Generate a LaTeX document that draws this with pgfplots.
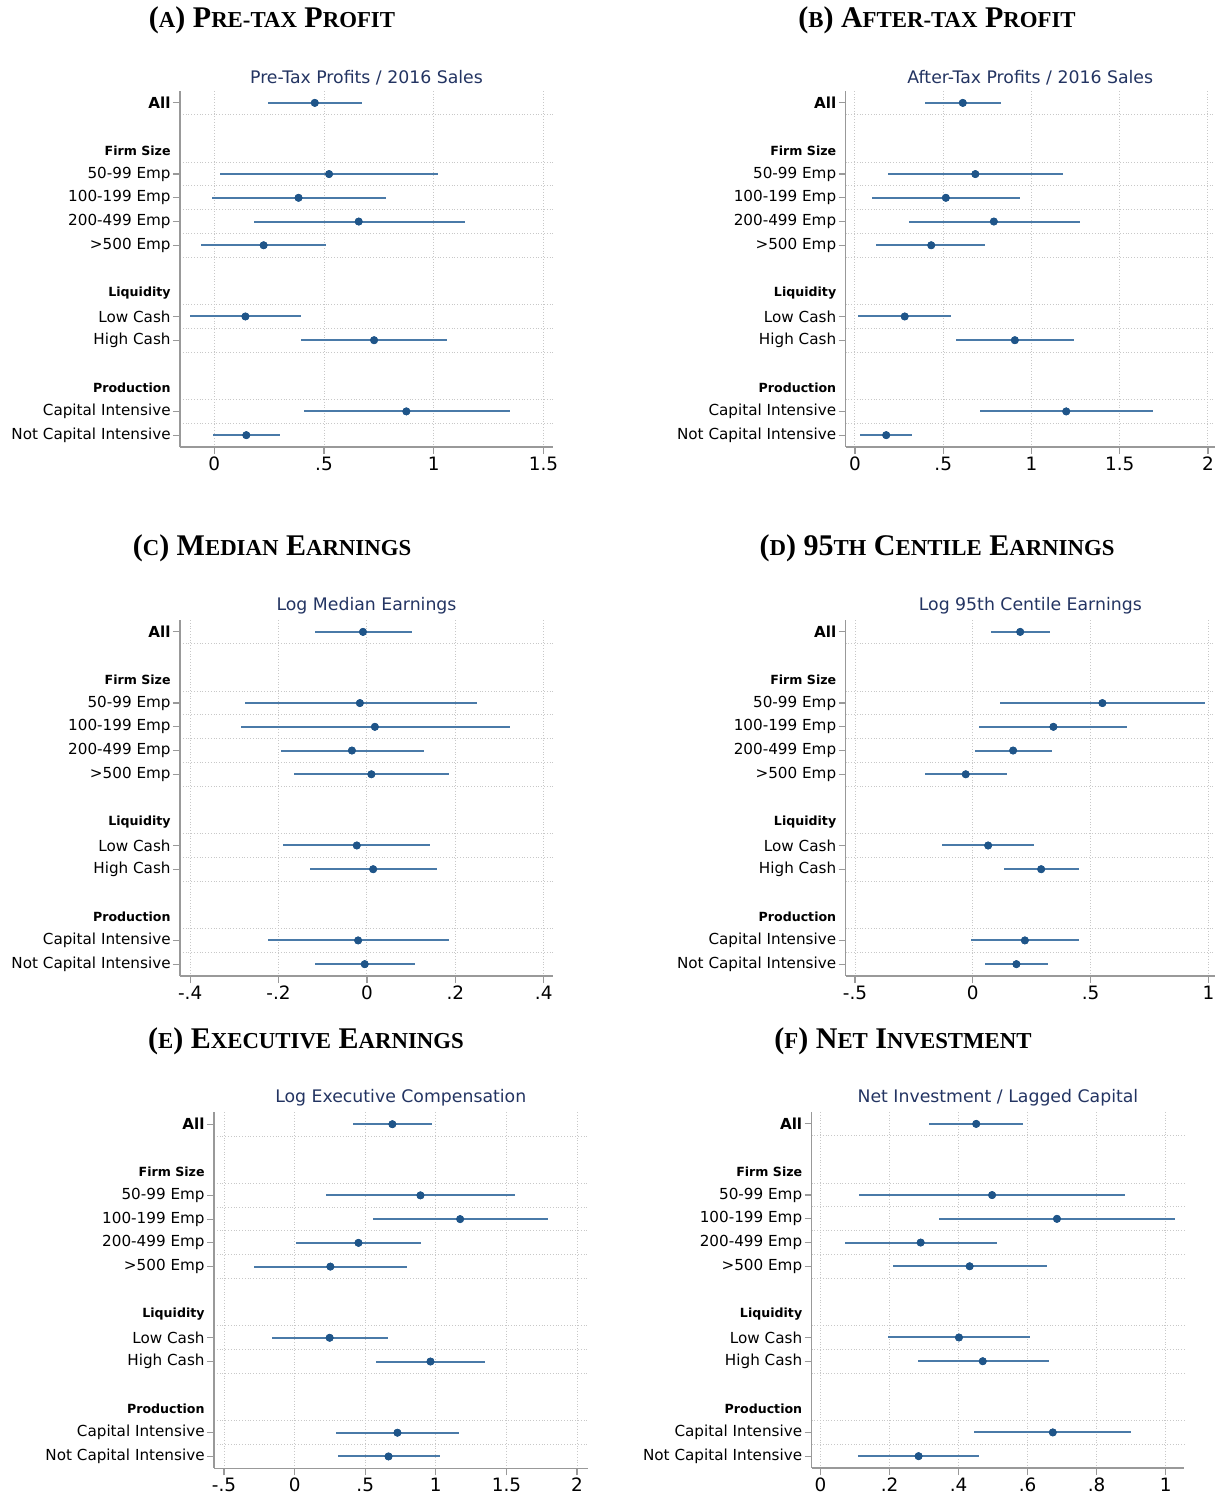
\documentclass[border=0pt]{standalone}
\usepackage{fontspec}
\setmainfont{DejaVu Sans}
\newfontfamily\titlefont{Liberation Serif}
\usepackage{pgfplots}
\usepackage{pgfplotstable}
\pgfplotsset{compat=1.18}
\definecolor{mk}{HTML}{1F5589}
\definecolor{ci}{HTML}{4A7AA8}
\definecolor{axgray}{HTML}{999999}
\definecolor{grd}{HTML}{C8C8C8}
\definecolor{ttl}{RGB}{35,52,98}
\newcommand\fsc[1]{{\fontsize{11.4}{13}\selectfont #1}}
\newcommand\ptitle[1]{{\titlefont\bfseries\fontsize{15}{18}\selectfont #1}}

\pgfplotstableread{
y est lo hi
0 0.458 0.244 0.672
3 0.523 0.026 1.019
4 0.384 -0.011 0.781
5 0.658 0.179 1.140
6 0.225 -0.060 0.509
9 0.142 -0.109 0.395
10 0.728 0.395 1.061
13 0.875 0.407 1.347
14 0.146 -0.004 0.298
}\tabA
\pgfplotstableread{
y est lo hi
0 0.611 0.394 0.830
3 0.682 0.186 1.181
4 0.515 0.098 0.935
5 0.787 0.304 1.273
6 0.432 0.121 0.738
9 0.282 0.020 0.544
10 0.906 0.575 1.242
13 1.197 0.707 1.687
14 0.177 0.029 0.322
}\tabB
\pgfplotstableread{
y est lo hi
0 -0.009 -0.117 0.101
3 -0.016 -0.277 0.248
4 0.018 -0.285 0.323
5 -0.034 -0.195 0.128
6 0.010 -0.166 0.186
9 -0.023 -0.189 0.143
10 0.014 -0.128 0.158
13 -0.020 -0.225 0.186
14 -0.005 -0.117 0.109
}\tabC
\pgfplotstableread{
y est lo hi
0 0.201 0.079 0.326
3 0.550 0.117 0.987
4 0.342 0.027 0.656
5 0.171 0.010 0.336
6 -0.030 -0.203 0.143
9 0.065 -0.129 0.260
10 0.290 0.134 0.450
13 0.221 -0.007 0.451
14 0.185 0.052 0.319
}\tabD
\pgfplotstableread{
y est lo hi
0 0.692 0.414 0.970
3 0.891 0.223 1.559
4 1.172 0.553 1.793
5 0.452 0.011 0.894
6 0.253 -0.289 0.798
9 0.248 -0.161 0.662
10 0.962 0.578 1.346
13 0.728 0.292 1.163
14 0.665 0.305 1.030
}\tabE
\pgfplotstableread{
y est lo hi
0 0.451 0.313 0.588
3 0.497 0.112 0.882
4 0.685 0.343 1.026
5 0.290 0.071 0.510
6 0.432 0.209 0.656
9 0.401 0.196 0.607
10 0.470 0.282 0.661
13 0.673 0.445 0.900
14 0.284 0.109 0.460
}\tabF

\pgfplotsset{
  coef/.style={
    scale only axis,
    height=178pt,
    y dir=reverse,
    ymin=-0.5, ymax=14.5,
    axis x line*=bottom, axis y line*=left,
    axis line style={draw=axgray, line width=0.6pt},
    tick style={draw=axgray, line width=0.6pt},
    tick align=outside,
    major tick length=3.5pt,
    minor tick length=0pt,
    ytick={0,3,4,5,6,9,10,13,14},
    yticklabels={\textbf{All},50-99 Emp,100-199 Emp,200-499 Emp,>500 Emp,Low Cash,High Cash,Capital Intensive,Not Capital Intensive},
    yticklabel style={font=\fontsize{7.6}{9}\selectfont, inner sep=1pt},
    xticklabel style={font=\fontsize{9.2}{10}\selectfont, inner sep=1.2pt},
    minor ytick={0.5,2.5,3.5,4.5,5.5,6.5,8.5,9.5,10.5,12.5,13.5},
    yminorgrids=true, xmajorgrids=true,
    minor grid style={densely dotted, draw=grd, line width=0.5pt},
    major grid style={densely dotted, draw=grd, line width=0.5pt},
    extra y ticks={2,8,12},
    extra y tick labels={Firm Size,Liquidity,Production},
    extra y tick style={major tick length=0pt, grid=none,
      yticklabel style={font=\bfseries\fontsize{6.3}{7.5}\selectfont, xshift=-3.5pt}},
    title style={font=\fontsize{8.65}{10}\selectfont, color=ttl, inner sep=2pt, yshift=-5pt},
    clip=false,
  },
  ciplot/.style={only marks, mark=*, mark size=1.75pt, color=mk,
    error bars/.cd, x dir=both, x explicit, error mark=none,
    error bar style={line width=1pt, color=ci}},
  dotplot/.style={only marks, mark=*, mark size=1.75pt, color=mk},
}
\newcommand\coefplots[1]{%
  \addplot[ciplot] table[x=est, y=y, x error plus expr=\thisrow{hi}-\thisrow{est}, x error minus expr=\thisrow{est}-\thisrow{lo}] {#1};
  \addplot[dotplot] table[x=est, y=y] {#1};
}

\begin{document}
\begin{tikzpicture}
\path[use as bounding box] (0pt,0pt) rectangle (608.5pt,-747pt);

\node at (136pt,-10pt) {\ptitle{(\fsc{A}) P\fsc{RE-TAX} P\fsc{ROFIT}}};
\node at (468.5pt,-10pt) {\ptitle{(\fsc{B}) A\fsc{FTER-TAX} P\fsc{ROFIT}}};
\node at (136pt,-274pt) {\ptitle{(\fsc{C}) M\fsc{EDIAN} E\fsc{ARNINGS}}};
\node at (468.5pt,-274pt) {\ptitle{(\fsc{D}) 95\fsc{TH} C\fsc{ENTILE} E\fsc{ARNINGS}}};
\node at (153pt,-520.5pt) {\ptitle{(\fsc{E}) E\fsc{XECUTIVE} E\fsc{ARNINGS}}};
\node at (451.5pt,-520.5pt) {\ptitle{(\fsc{F}) N\fsc{ET} I\fsc{NVESTMENT}}};

\begin{axis}[coef, at={(90pt,-223.5pt)}, anchor=south west, width=186.5pt,
  xmin=-0.156, xmax=1.543, xtick={0,0.5,1,1.5}, xticklabels={0,.5,1,1.5},
  title={Pre-Tax Profits / 2016 Sales}]
\coefplots{\tabA}
\end{axis}

\begin{axis}[coef, at={(422.8pt,-223.5pt)}, anchor=south west, width=184.7pt,
  xmin=-0.053, xmax=2.04, xtick={0,0.5,1,1.5,2}, xticklabels={0,.5,1,1.5,2},
  title={After-Tax Profits / 2016 Sales}]
\coefplots{\tabB}
\end{axis}

\begin{axis}[coef, at={(90pt,-488pt)}, anchor=south west, width=186.5pt,
  xmin=-0.423, xmax=0.421, xtick={-0.4,-0.2,0,0.2,0.4}, xticklabels={-.4,-.2,0,.2,.4},
  title={Log Median Earnings}]
\coefplots{\tabC}
\end{axis}

\begin{axis}[coef, at={(422.8pt,-488pt)}, anchor=south west, width=184.7pt,
  xmin=-0.54, xmax=1.028, xtick={-0.5,0,0.5,1}, xticklabels={-.5,0,.5,1},
  title={Log 95th Centile Earnings}]
\coefplots{\tabD}
\end{axis}

\begin{axis}[coef, at={(107pt,-734.15pt)}, anchor=south west, width=186.75pt,
  xmin=-0.571, xmax=2.074, xtick={-0.5,0,0.5,1,1.5,2}, xticklabels={-.5,0,.5,1,1.5,2},
  title={Log Executive Compensation}]
\coefplots{\tabE}
\end{axis}

\begin{axis}[coef, at={(405.8pt,-734pt)}, anchor=south west, width=186.35pt,
  xmin=-0.026, xmax=1.054, xtick={0,0.2,0.4,0.6,0.8,1}, xticklabels={0,.2,.4,.6,.8,1},
  title={Net Investment / Lagged Capital}]
\coefplots{\tabF}
\end{axis}
\end{tikzpicture}
\end{document}
